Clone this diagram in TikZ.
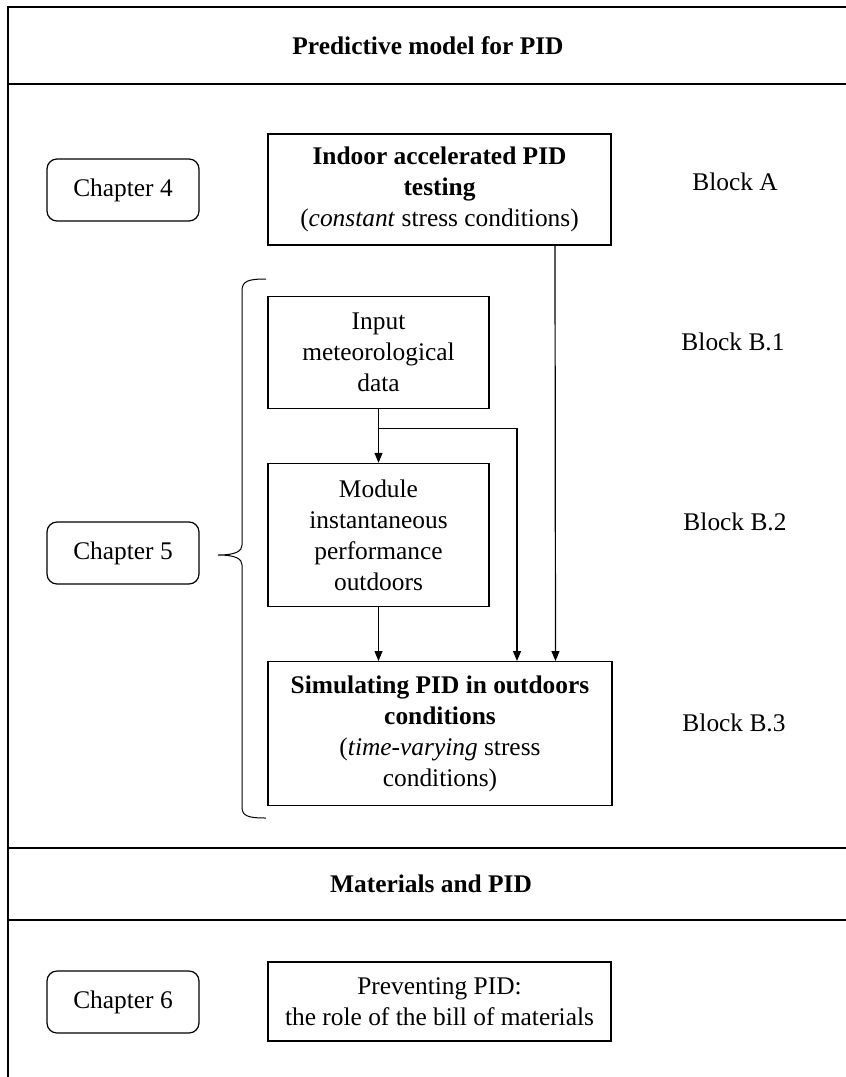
\documentclass[tikz,border=0pt]{standalone}
\usepackage{fontspec}
\setmainfont{Liberation Serif}
\usetikzlibrary{arrows.meta,positioning}

\begin{document}
\begin{tikzpicture}[x=0.5pt,y=-0.5pt,>={Triangle[length=5pt,width=4pt]},
                    font=\fontsize{12.7}{15.5}\selectfont]
  \tikzstyle{frame}=[line width=1.1pt]
  \tikzstyle{chapter}=[draw,rounded corners=5pt,line width=0.6pt,
                       minimum width=76pt,minimum height=31pt]
  \tikzstyle{stage}=[draw,line width=0.6pt,align=center,inner sep=2pt]
  \tikzstyle{flow}=[->,line width=0.6pt]

  \useasboundingbox (0,0) rectangle (846,1077);

  % frame and section headers
  \draw[frame] (846,7) -- (8,7) -- (8,1077);
  \draw[frame] (8,84) -- (846,84);
  \draw[frame] (8,848) -- (846,848);
  \draw[frame] (8,920) -- (846,920);
  \node (predhead) at (428,46)  {\textbf{Predictive model for PID}};
  \node (mathead)  at (431,884) {\textbf{Materials and PID}};

  \node[chapter] (ch4) at (123,190)  {Chapter 4};
  \node[chapter] (ch5) at (123,553)  {Chapter 5};
  \node[chapter] (ch6) at (123,1002) {Chapter 6};

  \node[stage,minimum width=171.5pt,minimum height=55.5pt] (indoor) at (439.5,189.5)
       {\textbf{Indoor accelerated PID}\\\textbf{testing}\\(\textit{constant} stress conditions)};
  \node[stage,minimum width=110.5pt,minimum height=56pt,
        below=25pt of indoor.south west,anchor=north west] (input)
       {Input\\meteorological\\data};
  \node[stage,minimum width=110.5pt,minimum height=71.5pt,below=27pt of input] (module)
       {Module\\instantaneous\\performance\\outdoors};
  \node[stage,minimum width=172pt,minimum height=72pt,
        below=27pt of module.south west,anchor=north west] (sim)
       {\textbf{Simulating PID in outdoors}\\\textbf{conditions}\\(\textit{time-varying} stress\\conditions)};
  \node[stage,minimum width=171.5pt,minimum height=39.5pt] (prevent) at (439.5,1001.5)
       {Preventing PID:\\the role of the bill of materials};

  \node (blockA)  at (735,182) {Block A};
  \node (blockB1) at (733,342) {Block B.1};
  \node (blockB2) at (735,522) {Block B.2};
  \node (blockB3) at (734,723) {Block B.3};

  % arrows
  \draw[flow] (input) -- (module);
  \draw[flow] (module) -- (module.south |- sim.north);
  \draw[flow] ([yshift=-10pt]input.south) -| ([xshift=38.5pt]sim.north);
  \draw[flow] ([xshift=57.75pt]indoor.south) -- ([xshift=57.75pt]sim.north);

  % brace for chapter 5
  \draw[line width=0.5pt] (266,279) .. controls (248,279) and (242,281) .. (242,291)
       -- (242,545) .. controls (242,551) and (236,555) .. (218,555)
       .. controls (236,555) and (242,559) .. (242,565)
       -- (242,807) .. controls (242,816) and (248,818) .. (266,818);
\end{tikzpicture}
\end{document}
